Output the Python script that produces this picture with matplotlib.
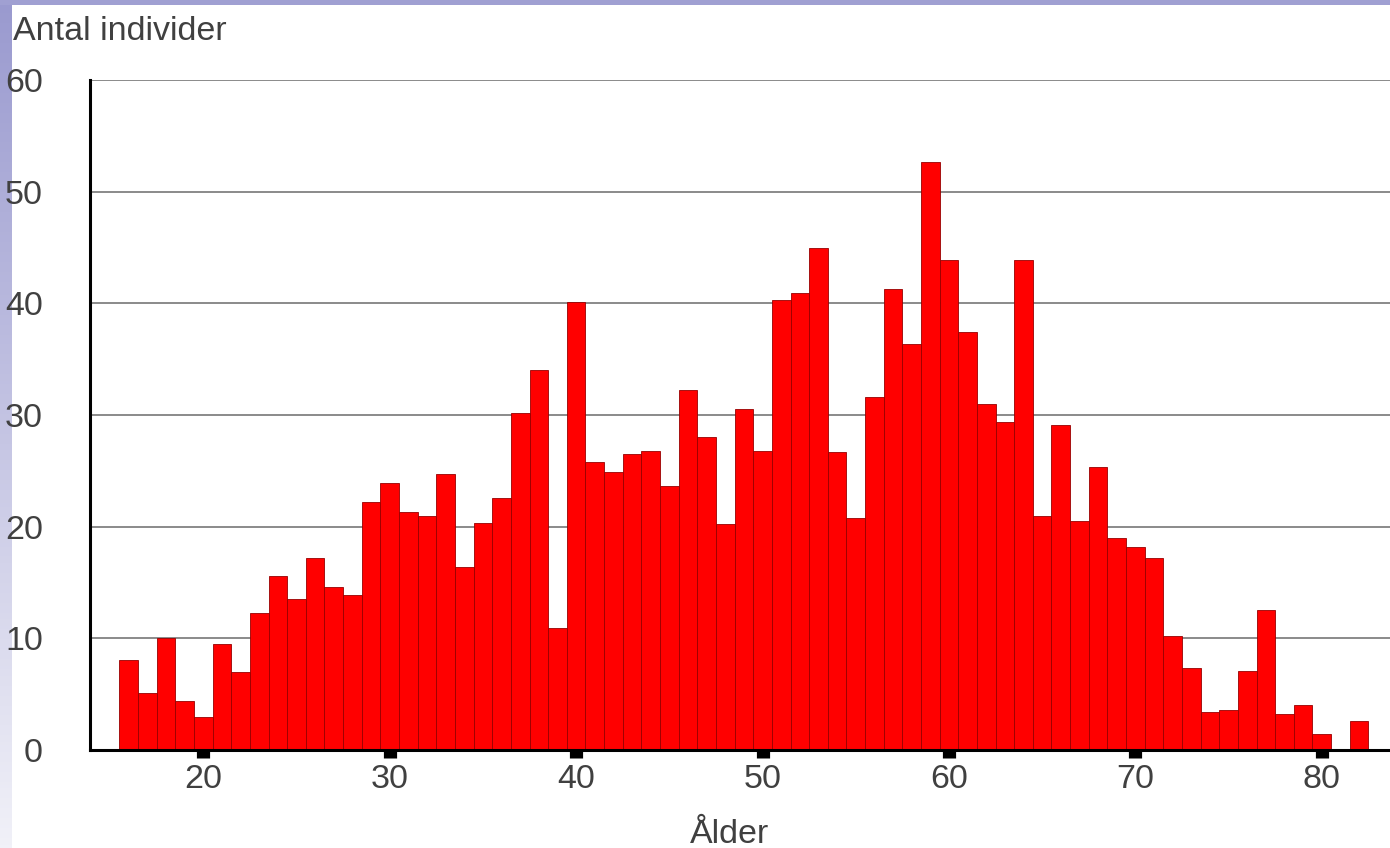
import numpy as np
import matplotlib.pyplot as plt
from matplotlib.colors import LinearSegmentedColormap

plt.rcParams['font.family'] = ['Liberation Sans', 'DejaVu Sans']

# antal individer per ålder
ages = list(range(16, 83))
counts = [8.1, 5.1, 10.0, 4.4, 3.0, 9.5, 7.0, 12.3, 15.6, 13.5,
          17.2, 14.6, 13.9, 22.2, 23.9, 21.3, 21.0, 24.7, 16.4, 20.3,
          22.6, 30.2, 34.0, 10.9, 40.1, 25.8, 24.9, 26.5, 26.8, 23.6,
          32.2, 28.0, 20.2, 30.5, 26.8, 40.3, 40.9, 45.0, 26.7, 20.8,
          31.6, 41.3, 36.4, 52.7, 43.9, 37.4, 31.0, 29.4, 43.9, 21.0,
          29.1, 20.5, 25.3, 19.0, 18.2, 17.2, 10.2, 7.3, 3.4, 3.6,
          7.1, 12.5, 3.2, 4.0, 1.4, 0.0, 2.6]
xticks = [20, 30, 40, 50, 60, 70, 80]
yticks = [0, 10, 20, 30, 40, 50, 60]

W, H = 1390, 848
fig = plt.figure(figsize=(W / 100, H / 100), dpi=100)
fig.patch.set_facecolor('white')

# lavendelfärgad kant till vänster och upptill
lav = LinearSegmentedColormap.from_list('lav', ['#9a9acf', '#c4c4e3', '#f1f1f8'])
edge = fig.add_axes([0, 0, 12 / W, 1])
edge.imshow(np.linspace(0, 1, 256).reshape(-1, 1), aspect='auto', cmap=lav)
edge.axis('off')
top = fig.add_axes([0, 1 - 5 / H, 1, 5 / H])
top.set_facecolor('#a0a0d2')
top.set_xticks([])
top.set_yticks([])
for s in top.spines.values():
    s.set_visible(False)

ax = fig.add_axes([90 / W, 1 - 750 / H, 1300 / W, 670 / H])
ax.bar(ages, counts, width=1.0, color='#ff0000', edgecolor='#980000',
       linewidth=0.6, zorder=2)
ax.set_xlim(13.92, 83.66)
ax.set_ylim(0, 60)
ax.set_xticks(xticks)
ax.set_yticks(yticks)
ax.set_axisbelow(True)
ax.yaxis.grid(True, color='#8a8a8a', linewidth=1.4)

for s in ['top', 'right']:
    ax.spines[s].set_visible(False)
ax.spines['left'].set_linewidth(2.2)
ax.spines['bottom'].set_linewidth(2.2)

txt = '#404040'
ax.tick_params(axis='x', length=5.5, width=9.5, color='black', pad=4.5,
               labelsize=24.5, labelcolor=txt)
ax.tick_params(axis='y', length=0, pad=34, labelsize=24.5, labelcolor=txt)

fig.text(13 / W, 1 - 40 / H, 'Antal individer', fontsize=24.5, color=txt,
         ha='left', va='baseline')
fig.text(730 / W, 1 - 843 / H, 'Ålder', fontsize=24.5, color=txt,
         ha='center', va='baseline')

fig.savefig('out.png', dpi=100)
